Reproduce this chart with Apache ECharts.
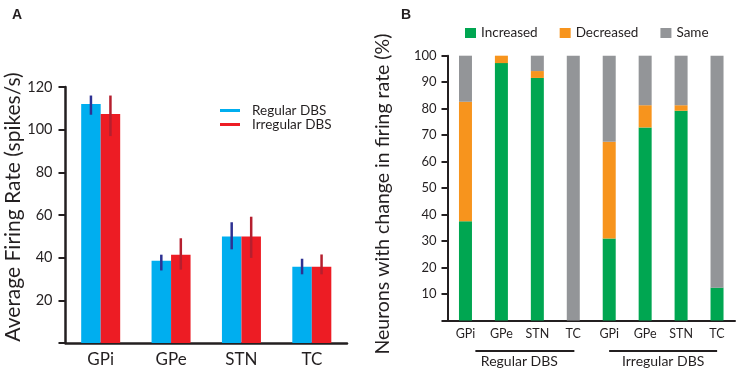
<!DOCTYPE html>
<html><head><meta charset="utf-8">
<script src="https://cdn.jsdelivr.net/npm/echarts@6/dist/echarts.min.js"></script>
<style>html,body{margin:0;padding:0;background:#fff}#c{width:737px;height:373px}</style>
</head><body><div id="c"></div>
<script>
// ---- Panel A data ----
const regionsA = ['GPi', 'GPe', 'STN', 'TC'];
const regularRate = [112, 38.5, 49.9, 35.7];
const irregularRate = [107.3, 41.4, 49.9, 35.7];
const regularErrLow = [107, 34, 43.9, 32.2];
const regularErrHigh = [116, 41.4, 56.6, 39.5];
const irregularErrLow = [97, 34.4, 39.9, 32.2];
const irregularErrHigh = [116, 49.1, 59.2, 41.5];

// ---- Panel B data ----
const categoriesB = ['GPi', 'GPe', 'STN', 'TC', 'GPi', 'GPe', 'STN', 'TC'];
const groupsB = ['Regular DBS', 'Irregular DBS'];
const increased = [37.5, 97.2, 91.6, 0, 31, 72.9, 79.2, 12.4];
const decreased = [45.1, 2.8, 2.6, 0, 36.5, 8.4, 2.1, 0];
const same = [17.4, 0, 5.8, 100, 32.5, 18.7, 18.7, 87.6];

const FONT = 'Lato';
const INK = '#231f20';

function errItem(offset) {
  return function (params, api) {
    const lo = api.coord([api.value(0), api.value(1)]);
    const hi = api.coord([api.value(0), api.value(2)]);
    return {
      type: 'line',
      shape: { x1: lo[0] + offset, y1: lo[1], x2: hi[0] + offset, y2: hi[1] },
      style: { stroke: api.visual('color'), lineWidth: 2.5 }
    };
  };
}

const chart = echarts.init(document.getElementById('c'), null, { renderer: 'canvas' });
const option = {
  animation: false,
  backgroundColor: '#fff',
  textStyle: { fontFamily: FONT, color: INK },
  title: [
    { text: 'A', left: 7, top: 3, textStyle: { fontFamily: 'Liberation Sans', fontSize: 14, fontWeight: 'bold', color: INK } },
    { text: 'B', left: 396, top: 3, textStyle: { fontFamily: 'Liberation Sans', fontSize: 14, fontWeight: 'bold', color: INK } }
  ],
  legend: [
    {
      data: ['Regular DBS', 'Irregular DBS'],
      orient: 'vertical', left: 220, top: 103.5, itemGap: 0, padding: 0,
      icon: 'rect', itemWidth: 20, itemHeight: 3,
      textStyle: { fontFamily: FONT, fontSize: 13.5, color: INK, lineHeight: 14, padding: [0, 0, 0, 7] }
    },
    {
      data: ['Increased', 'Decreased', 'Same'],
      orient: 'horizontal', left: 465, top: 25, itemGap: 22, padding: 0,
      icon: 'rect', itemWidth: 11, itemHeight: 10,
      textStyle: { fontFamily: FONT, fontSize: 13.5, color: INK, lineHeight: 16 }
    }
  ],
  grid: [
    { left: 65.5, right: 390, top: 87, bottom: 30 },
    { left: 447.5, right: 2, top: 55.7, bottom: 52.5 }
  ],
  xAxis: [
    {
      type: 'category', gridIndex: 0, data: regionsA,
      axisLine: { lineStyle: { color: INK, width: 2.5 } },
      axisTick: { length: 6, lineStyle: { color: INK, width: 2 } },
      axisLabel: { fontSize: 17, color: INK, margin: 8, fontFamily: FONT }
    },
    {
      type: 'category', gridIndex: 1, data: categoriesB,
      axisLine: { lineStyle: { color: INK, width: 2 } },
      axisTick: { length: 5, lineStyle: { color: INK, width: 2 } },
      axisLabel: { fontSize: 12.5, color: INK, margin: 7, fontFamily: FONT }
    },
    {
      type: 'category', gridIndex: 1, data: groupsB, position: 'bottom', offset: 34,
      axisLine: { show: false }, axisTick: { show: false },
      axisLabel: { fontSize: 14, color: INK, margin: 0, fontFamily: FONT }
    }
  ],
  yAxis: [
    {
      type: 'value', gridIndex: 0, min: 0, max: 120, interval: 20,
      axisLine: { show: true, lineStyle: { color: INK, width: 2.5 } },
      axisTick: { show: true, length: 7, lineStyle: { color: INK, width: 2 } },
      axisLabel: { fontSize: 14.5, color: INK, margin: 13, fontFamily: FONT, formatter: v => v === 0 ? '' : String(v) },
      splitLine: { show: false },
      name: 'Average Firing Rate (spikes/s)', nameLocation: 'middle', nameGap: 39,
      nameTextStyle: { fontSize: 21, color: INK, fontFamily: FONT, padding: [0, 0, 0, 16] }
    },
    {
      type: 'value', gridIndex: 1, min: 0, max: 100, interval: 10,
      axisLine: { show: true, lineStyle: { color: INK, width: 2 } },
      axisTick: { show: true, length: 6, lineStyle: { color: INK, width: 2 } },
      axisLabel: { fontSize: 13, color: INK, margin: 11, fontFamily: FONT, formatter: v => v === 0 ? '' : String(v) },
      splitLine: { show: false },
      name: 'Neurons with change in firing rate (%)', nameLocation: 'middle', nameGap: 55,
      nameTextStyle: { fontSize: 19.5, color: INK, fontFamily: FONT, padding: [0, 12, 0, 0] }
    }
  ],
  series: [
    { name: 'Regular DBS', type: 'bar', xAxisIndex: 0, yAxisIndex: 0, data: regularRate, barWidth: 19.5, barGap: '0%', itemStyle: { color: '#00aeef' } },
    { name: 'Irregular DBS', type: 'bar', xAxisIndex: 0, yAxisIndex: 0, data: irregularRate, barWidth: 19.5, barGap: '0%', itemStyle: { color: '#ed1c24' } },
    {
      name: 'Regular err', type: 'custom', xAxisIndex: 0, yAxisIndex: 0,
      renderItem: errItem(-9.75), itemStyle: { color: '#2e3192' },
      encode: { x: 0, y: [1, 2] }, z: 5,
      data: regionsA.map((c, i) => [i, regularErrLow[i], regularErrHigh[i]])
    },
    {
      name: 'Irregular err', type: 'custom', xAxisIndex: 0, yAxisIndex: 0,
      renderItem: errItem(9.75), itemStyle: { color: '#b51f2e' },
      encode: { x: 0, y: [1, 2] }, z: 5,
      data: regionsA.map((c, i) => [i, irregularErrLow[i], irregularErrHigh[i]])
    },
    { name: 'Increased', type: 'bar', xAxisIndex: 1, yAxisIndex: 1, stack: 'b', barWidth: 13, data: increased, itemStyle: { color: '#00a651' } },
    { name: 'Decreased', type: 'bar', xAxisIndex: 1, yAxisIndex: 1, stack: 'b', barWidth: 13, data: decreased, itemStyle: { color: '#f7941d' } },
    { name: 'Same', type: 'bar', xAxisIndex: 1, yAxisIndex: 1, stack: 'b', barWidth: 13, data: same, itemStyle: { color: '#939598' } }
  ]
};
chart.setOption(option);

// group underline lines below panel B labels, positioned from the group axis
const cReg = chart.convertToPixel({ xAxisIndex: 2 }, 0);
const cIrr = chart.convertToPixel({ xAxisIndex: 2 }, 1);
const yLine = chart.convertToPixel({ yAxisIndex: 1 }, 0) + 30.5;
chart.setOption({
  graphic: [
    { type: 'line', shape: { x1: cReg - 44, y1: yLine, x2: cReg + 55, y2: yLine }, style: { stroke: INK, lineWidth: 2 } },
    { type: 'line', shape: { x1: cIrr - 54, y1: yLine, x2: cIrr + 54, y2: yLine }, style: { stroke: INK, lineWidth: 2 } }
  ]
});
</script>
</body></html>
